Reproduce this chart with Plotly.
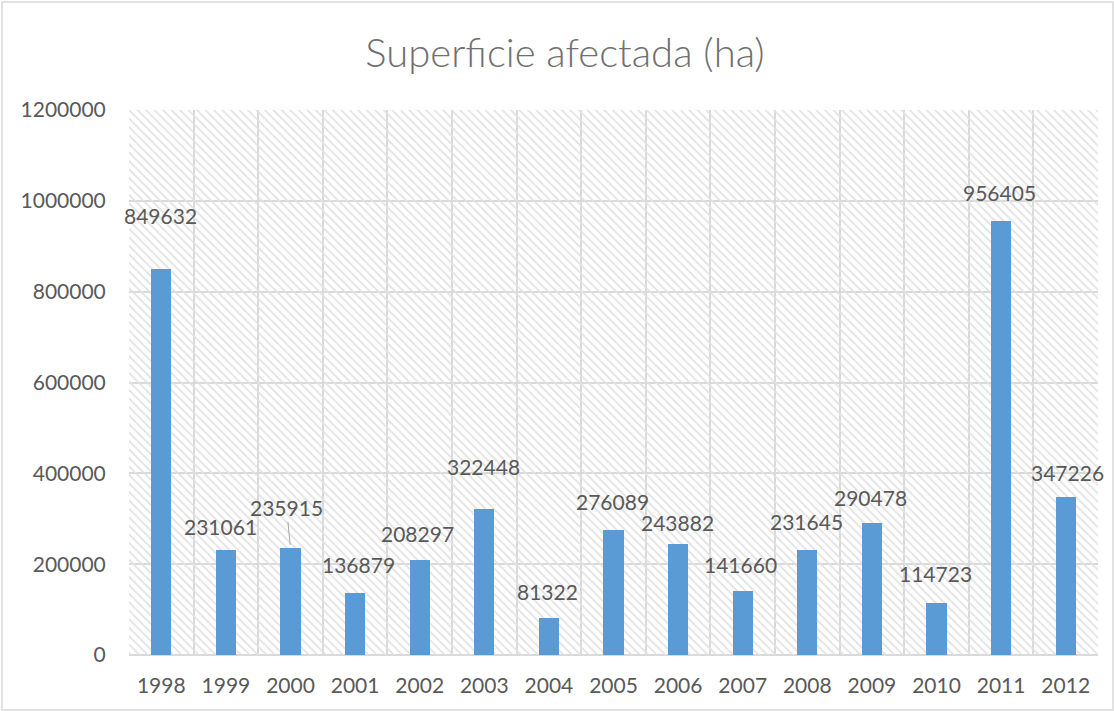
import plotly.graph_objects as go

years = ["1998", "1999", "2000", "2001", "2002", "2003", "2004", "2005",
         "2006", "2007", "2008", "2009", "2010", "2011", "2012"]
area_ha = [849632, 231061, 235915, 136879, 208297, 322448, 81322, 276089,
           243882, 141660, 231645, 290478, 114723, 956405, 347226]
y_ticks = [0, 200000, 400000, 600000, 800000, 1000000, 1200000]

# label placement tweaks (pixels): (xshift, yshift)
label_shift = {"1998": (-1, 54), "1999": (-5, 24), "2001": (3, 28),
               "2002": (-2, 27), "2003": (-1, 42), "2004": (-1, 27),
               "2005": (-1, 28), "2006": (-1, 22), "2007": (-2, 26),
               "2008": (-1, 28), "2009": (-1, 26), "2010": (-1, 29),
               "2011": (-2, 28), "2012": (2, 25)}

FONT = "Lato"
TXT = "#595959"
GRID = "#d9d9d9"
W, H = 1114, 711
L, R, T, B = 129, 16, 110, 56
ymax = y_ticks[-1]

pos = list(range(len(years)))
bounds = [p - 0.5 for p in pos] + [pos[-1] + 0.5]

fig = go.Figure()
# hatched plot-area background
fig.add_trace(go.Bar(
    x=pos, y=[ymax] * len(pos), width=1,
    marker=dict(color="rgba(0,0,0,0)", line=dict(width=0),
                pattern=dict(shape="\\", fgcolor="#e2e2e2",
                             bgcolor="rgba(0,0,0,0)",
                             size=6, solidity=0.3, fillmode="replace")),
    hoverinfo="skip", showlegend=False))
fig.add_trace(go.Bar(
    x=pos, y=area_ha, width=0.31,
    marker=dict(color="#5b9bd5", line=dict(width=0)),
    showlegend=False))

for p, yr, v in zip(pos, years, area_ha):
    if yr == "2000":
        fig.add_annotation(x=p, y=v, text=str(v), showarrow=True,
                           arrowhead=0, arrowwidth=1, arrowcolor="#a6a6a6",
                           ax=-4, ay=-40, standoff=3,
                           font=dict(family=FONT, size=21, color=TXT))
    else:
        dx, dy = label_shift[yr]
        fig.add_annotation(x=p, y=v, text=str(v), showarrow=False,
                           xshift=dx, yshift=dy, yanchor="middle",
                           font=dict(family=FONT, size=21, color=TXT))

pw = W - L - R
ph = H - T - B
fig.add_shape(type="rect", xref="paper", yref="paper",
              x0=(2 - L) / pw, x1=(W - 1 - L) / pw,
              y0=-(H - 1 - (H - B)) / ph, y1=(H - B - 2) / ph,
              line=dict(color="#d9d9d9", width=1.5), layer="below")

fig.update_layout(
    width=W, height=H, barmode="overlay", bargap=0,
    margin=dict(l=L, r=R, t=T, b=B, autoexpand=False),
    paper_bgcolor="white", plot_bgcolor="white",
    title=dict(text="Superficie afectada (ha)", x=565 / W, xref="container",
               xanchor="center", y=1 - 53 / H, yanchor="middle",
               font=dict(family=FONT, size=40, color="#707070", weight=300)),
    font=dict(family=FONT, size=21, color=TXT),
)
fig.update_xaxes(range=[-0.5, pos[-1] + 0.5], tickvals=pos, ticktext=years,
                 showgrid=False, zeroline=False,
                 minor=dict(tickvals=bounds, showgrid=True, gridcolor=GRID,
                            gridwidth=1.5, ticks=""),
                 ticks="outside", ticklen=12, tickcolor="rgba(0,0,0,0)",
                 showline=False,
                 tickfont=dict(family=FONT, size=21, color=TXT))
fig.update_yaxes(range=[0, ymax], tickvals=y_ticks,
                 ticktext=[str(t) for t in y_ticks],
                 showgrid=True, gridcolor=GRID, gridwidth=1.5,
                 zeroline=True, zerolinecolor=GRID, zerolinewidth=1.5,
                 ticks="outside", ticklen=18, tickcolor="rgba(0,0,0,0)",
                 tickfont=dict(family=FONT, size=21, color=TXT))

fig.write_html("out.html", config={"displayModeBar": False},
               post_script="document.body.style.margin='0';"
                           "document.body.style.overflow='hidden';")
